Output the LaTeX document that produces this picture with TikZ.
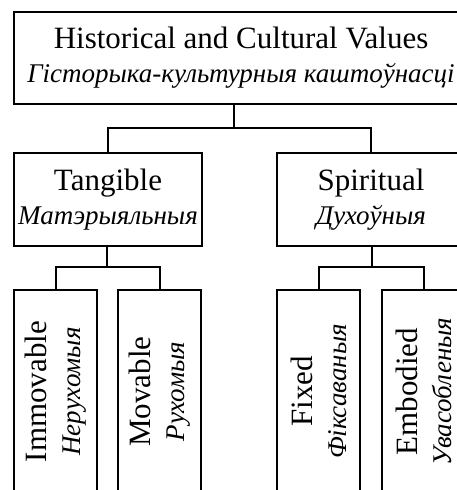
\documentclass[tikz,border=0pt]{standalone}
\usepackage{fontspec}
\setmainfont{Liberation Serif}
\newcommand{\belname}[1]{{\fontsize{27}{34}\selectfont\itshape #1}}

\begin{document}
\begin{tikzpicture}[
        x=1pt, y=-1pt,
        font=\fontsize{31}{34}\selectfont,
        box/.style={draw, line width=2pt, inner sep=0pt, align=center},
        group/.style={box, minimum width=188pt, minimum height=93pt},
        leaf/.style={box, rotate=90, minimum width=203pt, minimum height=83pt},
        link/.style={line width=2pt}
    ]
        \useasboundingbox (0,0) rectangle (457,490);
        \clip (0,0) rectangle (457,490);

        \node[box, minimum width=454pt, minimum height=92pt] (values) at (241,58) {Historical and Cultural Values\\\belname{Гісторыка-культурныя каштоўнасці}};
        \node[group] (tangible) at (108,199.5) {Tangible\\\belname{Матэрыяльныя}};
        \node[group] (spiritual) at (371,199.5) {Spiritual\\\belname{Духоўныя}};
        \node[leaf] (immovable) at (55.5,391.5) {Immovable\\\belname{Нерухомыя}};
        \node[leaf] (movable) at (159.5,391.5) {Movable\\\belname{Рухомыя}};
        \node[leaf] (fixed) at (318.5,391.5) {Fixed\\\belname{Фіксаваныя}};
        \node[leaf] (embodied) at (423.5,391.5) {Embodied\\\belname{Увасобленыя}};

        \coordinate (split) at (234,128);
        \coordinate (splitT) at (107,267);
        \coordinate (splitS) at (372,267);

        \draw[link] (values.south -| split) -- (split);
        \draw[link] (tangible.north) |- (split) -| (spiritual.north);
        \draw[link] (tangible.south -| splitT) -- (splitT);
        \draw[link] (immovable.east) |- (splitT) -| (movable.east);
        \draw[link] (spiritual.south -| splitS) -- (splitS);
        \draw[link] (fixed.east) |- (splitS) -| (embodied.east);
    \end{tikzpicture}
\end{document}
